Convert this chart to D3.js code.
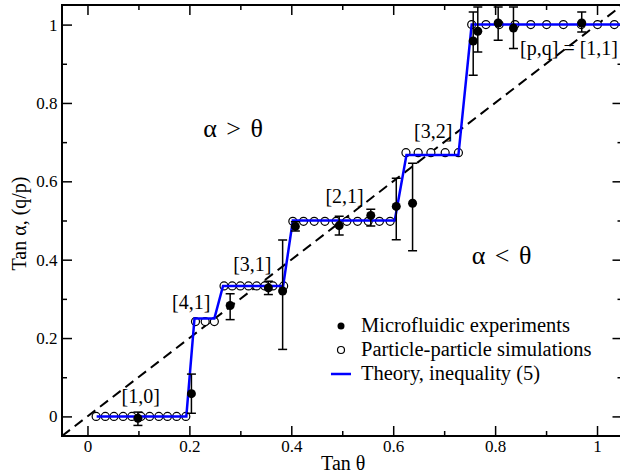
<!DOCTYPE html>
<html>
<head>
<meta charset="utf-8">
<script src="https://cdn.jsdelivr.net/npm/d3@7"></script>
<style>
  html, body { margin: 0; padding: 0; background: #fff; }
  svg, svg text { font-family: "Liberation Serif", "Times New Roman", Times, Tinos, "DejaVu Serif", "Noto Serif", serif !important; }
</style>
</head>
<body>
<svg id="chart" width="620" height="474"></svg>
<script>
// ---------- data ----------
const majorTicks = [0, 0.2, 0.4, 0.6, 0.8, 1];
const minorTicks = [0.1, 0.3, 0.5, 0.7, 0.9];
const tickLabels = ["0", "0.2", "0.4", "0.6", "0.8", "1"];

// particle-particle simulations (open circles)
const simX = [0.017,0.035,0.052,0.070,0.087,0.105,0.122,0.140,0.157,0.175,0.193,
              0.212,0.231,0.249,
              0.268,0.284,0.300,0.316,0.332,0.348,0.364,0.385,
              0.403,0.424,0.445,0.466,0.488,0.509,0.530,0.551,0.573,0.594,
              0.625,0.649,0.674,0.702,0.728,
              0.754,0.782,0.808,0.839,0.870,0.901,0.934,0.969,1.001,1.034];
const simY = [0,0,0,0,0,0,0,0,0,0,0,
              0.242,0.242,0.242,
              0.333,0.333,0.333,0.333,0.333,0.333,0.333,0.333,
              0.498,0.498,0.498,0.498,0.498,0.498,0.498,0.498,0.498,0.498,
              0.673,0.673,0.673,0.673,0.673,
              1,1,1,1,1,1,1,1,1,1];

// microfluidic experiments (filled circles with error bars)
const expX  = [0.099,0.204,0.280,0.355,0.383,0.408,0.494,0.556,0.606,0.638,0.757,0.766,0.806,0.836,0.970];
const expY  = [-0.005,0.058,0.283,0.328,0.320,0.485,0.487,0.513,0.536,0.544,0.958,0.983,1.004,0.991,1.004];
const expLo = [0.018,0.050,0.036,0.017,0.149,0.012,0.024,0.027,0.085,0.121,0.087,0.053,0.044,0.052,0.023];
const expHi = [0.016,0.050,0.030,0.017,0.130,0.012,0.024,0.016,0.072,0.102,0.074,0.062,0.041,0.054,0.028];

// theory, inequality (5)
const theoryX = [0.018,0.194,0.210,0.249,0.266,0.384,0.403,0.603,0.626,0.728,0.754,1.05];
const theoryY = [0,0,0.25,0.25,0.333,0.333,0.5,0.5,0.667,0.667,1,1];

// y = x reference
const diagX = [-0.05, 1.05];

// annotations
const annText = ["[1,0]","[4,1]","[3,1]","[2,1]","[3,2]","[p,q] = [1,1]"];
const annX    = [0.067,0.166,0.286,0.467,0.641,0.849];
const annY    = [0.035,0.273,0.370,0.545,0.710,0.922];
const regionText = ["α > θ","α < θ"];
const regionX    = [0.227,0.754];
const regionY    = [0.714,0.389];

const legendLabels = ["Microfluidic experiments","Particle-particle simulations","Theory, inequality (5)"];

// ---------- layout ----------
const FONT = '"Liberation Serif", "Times New Roman", Times, Tinos, "DejaVu Serif", "Noto Serif", serif';
const svg = d3.select("#chart");
const L = 62, R = 622.5, T = 5, B = 436;
const x = d3.scaleLinear().domain([-0.05, 1.05]).range([L, R]);
const y = d3.scaleLinear().domain([-0.05, 1.05]).range([B, T]);
const ink = "#000";

svg.append("defs").append("clipPath").attr("id","clip")
  .append("rect").attr("x",L).attr("y",T).attr("width",R-L).attr("height",B-T);

// axes (ticks inward on all sides)
function styleAxis(g){
  g.attr("font-family", FONT);
  g.select(".domain").remove();
  g.selectAll("line").attr("stroke", ink).attr("stroke-width", 1.5);
  g.selectAll("text").attr("font-family",FONT).attr("font-size","17px").attr("fill","#000");
}
const fmt = d => tickLabels[majorTicks.indexOf(d)];
svg.append("g").attr("transform",`translate(0,${B})`)
  .call(d3.axisBottom(x).tickValues(majorTicks).tickFormat(fmt).tickSize(-10).tickPadding(4)).call(styleAxis);
svg.append("g").attr("transform",`translate(0,${B})`)
  .call(d3.axisBottom(x).tickValues(minorTicks).tickFormat("").tickSize(-5)).call(styleAxis);
svg.append("g").attr("transform",`translate(${L},0)`)
  .call(d3.axisLeft(y).tickValues(majorTicks).tickFormat(fmt).tickSize(-10).tickPadding(4.5)).call(styleAxis);
svg.append("g").attr("transform",`translate(${L},0)`)
  .call(d3.axisLeft(y).tickValues(minorTicks).tickFormat("").tickSize(-5)).call(styleAxis);
svg.append("g").attr("transform",`translate(0,${T})`)
  .call(d3.axisTop(x).tickValues(majorTicks).tickFormat("").tickSize(-10)).call(styleAxis);
svg.append("g").attr("transform",`translate(0,${T})`)
  .call(d3.axisTop(x).tickValues(minorTicks).tickFormat("").tickSize(-5)).call(styleAxis);
svg.append("g").attr("transform",`translate(${R},0)`)
  .call(d3.axisRight(y).tickValues(majorTicks).tickFormat("").tickSize(-10)).call(styleAxis);
svg.append("g").attr("transform",`translate(${R},0)`)
  .call(d3.axisRight(y).tickValues(minorTicks).tickFormat("").tickSize(-5)).call(styleAxis);

// frame
svg.append("rect").attr("x",L).attr("y",T).attr("width",R-L).attr("height",B-T)
  .attr("fill","none").attr("stroke",ink).attr("stroke-width",2);

const plot = svg.append("g").attr("clip-path","url(#clip)");

// diagonal dashed line
plot.append("line")
  .attr("x1", x(diagX[0])).attr("y1", y(diagX[0]))
  .attr("x2", x(diagX[1])).attr("y2", y(diagX[1]))
  .attr("stroke","#000").attr("stroke-width",2).attr("stroke-dasharray","10,6");

// simulations
plot.selectAll("circle.sim").data(simX.map((v,i)=>[v,simY[i]])).join("circle")
  .attr("class","sim").attr("cx",d=>x(d[0])).attr("cy",d=>y(d[1])).attr("r",4)
  .attr("fill","#fff").attr("stroke","#000").attr("stroke-width",1.2);

// theory line
plot.append("path")
  .attr("d", d3.line().x(d=>x(d[0])).y(d=>y(d[1]))(theoryX.map((v,i)=>[v,theoryY[i]])))
  .attr("fill","none").attr("stroke","#0000ff").attr("stroke-width",2.5);

// experiments
const exp = expX.map((v,i)=>({x:v,y:expY[i],lo:expY[i]-expLo[i],hi:expY[i]+expHi[i]}));
const eg = plot.append("g").attr("stroke","#000").attr("stroke-width",1.5);
eg.selectAll("line.v").data(exp).join("line").attr("class","v")
  .attr("x1",d=>x(d.x)).attr("x2",d=>x(d.x)).attr("y1",d=>y(d.lo)).attr("y2",d=>y(d.hi));
eg.selectAll("line.c1").data(exp).join("line").attr("class","c1")
  .attr("x1",d=>x(d.x)-4.5).attr("x2",d=>x(d.x)+4.5).attr("y1",d=>y(d.lo)).attr("y2",d=>y(d.lo));
eg.selectAll("line.c2").data(exp).join("line").attr("class","c2")
  .attr("x1",d=>x(d.x)-4.5).attr("x2",d=>x(d.x)+4.5).attr("y1",d=>y(d.hi)).attr("y2",d=>y(d.hi));
plot.selectAll("circle.exp").data(exp).join("circle").attr("class","exp")
  .attr("cx",d=>x(d.x)).attr("cy",d=>y(d.y)).attr("r",4.5).attr("fill","#000");

// annotations
svg.selectAll("text.ann").data(annText).join("text").attr("class","ann")
  .attr("x",(d,i)=>x(annX[i])).attr("y",(d,i)=>y(annY[i]))
  .attr("font-family",FONT).attr("font-size","20px").attr("fill","#000").text(d=>d);
svg.selectAll("text.reg").data(regionText).join("text").attr("class","reg")
  .attr("x",(d,i)=>x(regionX[i])).attr("y",(d,i)=>y(regionY[i]))
  .attr("font-family",FONT).attr("font-size","26px").attr("word-spacing","3px").attr("fill","#000").text(d=>d);

// legend
const lg = svg.append("g");
const ly = [326, 350, 374];
lg.append("circle").attr("cx",341).attr("cy",ly[0]).attr("r",3.5).attr("fill","#000");
lg.append("circle").attr("cx",341).attr("cy",ly[1]).attr("r",3.5).attr("fill","#fff").attr("stroke","#000").attr("stroke-width",1.2);
lg.append("line").attr("x1",331).attr("x2",351).attr("y1",ly[2]).attr("y2",ly[2]).attr("stroke","#0000ff").attr("stroke-width",2.5);
lg.selectAll("text").data(legendLabels).join("text")
  .attr("x",361).attr("y",(d,i)=>ly[i]+6).attr("font-family",FONT).attr("font-size","20.5px").attr("fill","#000").text(d=>d);

// axis titles
svg.append("text").attr("x",(L+R)/2+1).attr("y",470).attr("text-anchor","middle")
  .attr("font-family",FONT).attr("font-size","20px").text("Tan θ");
svg.append("text").attr("transform",`translate(26,${(T+B)/2+3}) rotate(-90)`).attr("text-anchor","middle")
  .attr("font-family",FONT).attr("font-size","20px").text("Tan α, (q/p)");
</script>
</body>
</html>
